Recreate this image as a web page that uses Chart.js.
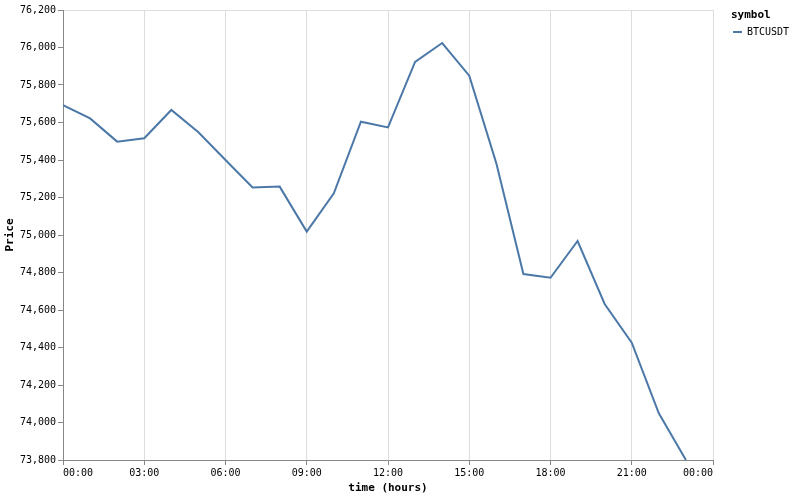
<!DOCTYPE html>
<html>
<head>
<meta charset="utf-8">
<script src="https://cdn.jsdelivr.net/npm/chart.js@4"></script>
<style>
  html, body { margin: 0; padding: 0; background: #fff; }
  #wrap { width: 794px; height: 497px; }
</style>
</head>
<body>
<div id="wrap"><canvas id="priceChart" width="794" height="497"></canvas></div>
<script>
// hours since midnight
const hours = [0, 1, 2, 3, 4, 5, 6, 7, 8, 9, 10, 11, 12, 13, 14, 15, 16, 17, 18, 19, 20, 21, 22, 23];
const btcPrice = [75693, 75622, 75498, 75516, 75667, 75548, 75400, 75254, 75258, 75018, 75222, 75604,
  75574, 75923, 76024, 75850, 75382, 74792, 74772, 74968, 74632, 74426, 74049, 73800];
const symbolName = 'BTCUSDT';
const yMin = 73800, yMax = 76200, yStep = 200;
const xMin = 0, xMax = 24, xStep = 3;

const mono = 'DejaVu Sans Mono';
const lineColor = '#4c78a8';

// legend drawn by hand, vega style
const legendPlugin = {
  id: 'symbolLegend',
  afterDraw(chart) {
    const ctx = chart.ctx;
    const left = chart.chartArea.right + 18;
    ctx.save();
    ctx.fillStyle = '#000';
    ctx.textBaseline = 'middle';
    ctx.font = 'bold 11px "' + mono + '"';
    ctx.fillText('symbol', left, 15);
    ctx.strokeStyle = lineColor;
    ctx.lineWidth = 2;
    ctx.beginPath();
    ctx.moveTo(left + 2, 32);
    ctx.lineTo(left + 11, 32);
    ctx.stroke();
    ctx.font = '10px "' + mono + '"';
    ctx.fillText(chart.data.datasets[0].label, left + 16, 32);
    ctx.restore();
  }
};

const ctx = document.getElementById('priceChart').getContext('2d');
new Chart(ctx, {
  type: 'line',
  data: {
    datasets: [{
      label: symbolName,
      data: hours.map((h, i) => ({ x: h, y: btcPrice[i] })),
      borderColor: lineColor,
      borderWidth: 2,
      pointRadius: 0,
      fill: false,
      tension: 0
    }]
  },
  options: {
    responsive: false,
    animation: false,
    layout: { padding: { top: 10, right: 81, left: 0, bottom: 0 } },
    plugins: {
      legend: { display: false },
      tooltip: { enabled: false }
    },
    scales: {
      x: {
        type: 'linear',
        min: xMin,
        max: xMax,
        afterFit: s => { s.height = 37; },
        ticks: {
          stepSize: xStep,
          align: 'inner',
          padding: 2,
          color: '#000',
          font: { family: mono, size: 10 },
          callback: v => String(v % 24).padStart(2, '0') + ':00'
        },
        grid: { color: '#ddd', tickColor: '#888', tickLength: 5, lineWidth: 1 },
        border: { color: '#888' },
        title: {
          display: true,
          text: 'time (hours)',
          color: '#000',
          font: { family: mono, size: 11, weight: 'bold' },
          padding: { top: 2, bottom: 2 }
        }
      },
      y: {
        min: yMin,
        max: yMax,
        afterFit: s => { s.width = 63; },
        ticks: {
          stepSize: yStep,
          padding: 2,
          color: '#000',
          font: { family: mono, size: 10 },
          callback: v => v.toLocaleString('en-US')
        },
        grid: {
          color: c => (c.tick && c.tick.value === yMax ? '#ddd' : 'rgba(0,0,0,0)'),
          tickColor: '#888',
          tickLength: 5
        },
        border: { color: '#888' },
        title: {
          display: true,
          text: 'Price',
          color: '#000',
          font: { family: mono, size: 11, weight: 'bold' },
          padding: { top: 4, bottom: 0 }
        }
      }
    }
  },
  plugins: [legendPlugin]
});
</script>
</body>
</html>
